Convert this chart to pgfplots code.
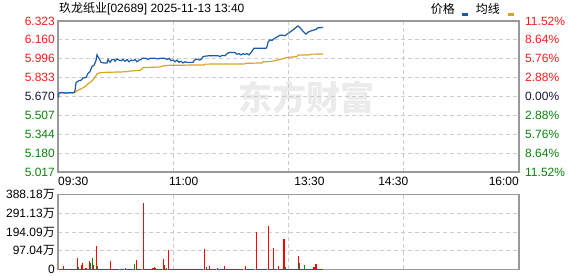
\documentclass[border=0pt]{standalone}
\usepackage{pgfplots}
\pgfplotsset{compat=1.18}
\usepackage{fontspec}
\setmainfont{Liberation Sans}
\newfontfamily\cjk{Noto Sans CJK SC}
\newcommand{\lbl}{\fontsize{12bp}{14bp}\selectfont}
\definecolor{pblue}{HTML}{1A5AA6}
\definecolor{avgorg}{HTML}{DDA224}
\definecolor{lred}{HTML}{FF1A1A}
\definecolor{lgreen}{HTML}{0A840A}
\definecolor{lzero}{HTML}{14143C}
\definecolor{framec}{HTML}{999999}
\definecolor{gridc}{HTML}{CCCCCC}
\definecolor{vred}{HTML}{FF0000}
\definecolor{vgreen}{HTML}{008A00}
\pgfplotsset{
  panel/.style={
    scale only axis, width=461bp, anchor=south west,
    xmin=58, xmax=519,
    xtick={173.25,288.5,403.75}, xticklabels={},
    xmajorgrids, ymajorgrids,
    grid style={gridc, dash pattern=on 4bp off 3bp, line width=0.9bp},
    axis line style={framec, line width=1.3bp},
    major tick length=0pt,
    yticklabel style={font=\lbl, inner sep=0pt, xshift=-3bp},
    clip mode=individual,
  }
}
\begin{document}
\begin{tikzpicture}
\useasboundingbox (0,0) rectangle (578bp,276bp);
% watermark
\node[text=black!8, font=\cjk\bfseries\fontsize{34bp}{34bp}\selectfont] at (306bp,179bp) {东方财富};
% title and legend
\node[anchor=west, inner sep=0pt, font=\lbl] at (59bp,267bp) {{\cjk 玖龙纸业}[02689] 2025-11-13 13:40};
\node[anchor=east, inner sep=0pt, font=\lbl] at (455bp,267bp) {\cjk 价格};
\fill[pblue] (462bp,260bp) rectangle (468bp,262.5bp);
\node[anchor=east, inner sep=0pt, font=\lbl] at (500bp,267bp) {\cjk 均线};
\fill[avgorg] (508bp,260bp) rectangle (514bp,262.5bp);

\begin{axis}[panel, at={(58bp,104bp)}, height=151bp,
  ymin=5.017, ymax=6.323,
  ytick={5.017,5.180,5.344,5.507,5.670,5.833,5.996,6.160,6.323},
  yticklabels={\textcolor{lgreen}{5.017},\textcolor{lgreen}{5.180},\textcolor{lgreen}{5.344},\textcolor{lgreen}{5.507},\textcolor{lzero}{5.670},\textcolor{lred}{5.833},\textcolor{lred}{5.996},\textcolor{lred}{6.160},\textcolor{lred}{6.323}},
]
\addplot[avgorg, line width=1.2bp] coordinates {
(59,5.700) (66,5.700) (74,5.703) (76,5.712) (78,5.725) (80,5.732) (83,5.745) (85,5.755)
(88,5.780) (90,5.790) (93,5.815) (95,5.836) (97,5.865) (99,5.873) (102,5.878) (110,5.880)
(120,5.882) (127,5.885) (133,5.893) (140,5.895) (142,5.910) (143,5.920) (150,5.922) (160,5.925)
(163,5.935) (170,5.940) (180,5.940) (190,5.942) (204,5.942) (205,5.950) (245,5.952) (246,5.957)
(262,5.960) (263,5.970) (270,5.972) (275,5.980) (282,5.995) (286,6.005) (290,6.010) (297,6.015)
(298,6.028) (310,6.030) (311,6.036) (323,6.038)
};
\addplot[pblue, line width=1.2bp] coordinates {
(58.5,5.660) (59,5.700) (62,5.705) (66,5.700) (70,5.703) (74,5.703) (75,5.720) (76,5.790)
(79,5.807) (81,5.810) (83,5.830) (86,5.835) (88,5.870) (90,5.885) (92,5.930) (94,5.940)
(96,5.980) (97,6.030) (99,6.000) (101,5.965) (104,5.960) (107,5.960) (108,5.990) (110,5.965)
(112,5.990) (114,5.990) (115,5.975) (117,5.995) (119,5.985) (121,5.980) (123,5.990) (125,5.975)
(127,5.990) (129,5.970) (131,5.985) (133,5.980) (135,5.990) (137,5.970) (139,5.985) (141,5.990)
(142,6.000) (146,6.000) (148,5.990) (150,6.000) (155,6.000) (158,5.995) (160,6.000) (165,6.000)
(167,5.990) (169,6.000) (171,5.980) (173,5.985) (175,5.970) (177,5.985) (179,5.965) (181,5.975)
(183,5.960) (185,5.970) (187,5.965) (190,5.965) (193,5.965) (194,5.980) (196,5.994) (198,5.990)
(200,5.985) (202,6.000) (203,6.015) (206,6.020) (210,6.023) (214,6.023) (218,6.023) (220,6.015)
(222,6.025) (225,6.023) (227,6.040) (229,6.050) (233,6.050) (235,6.050) (237,6.035) (239,6.040)
(241,6.030) (243,6.040) (245,6.035) (247,6.040) (249,6.030) (251,6.050) (254,6.087) (258,6.087)
(262,6.087) (266,6.087) (267,6.100) (268,6.140) (270,6.160) (272,6.155) (274,6.170) (276,6.180)
(278,6.190) (280,6.200) (283,6.200) (285,6.195) (287,6.210) (289,6.220) (291,6.235) (293,6.245)
(295,6.260) (297,6.275) (298,6.280) (300,6.265) (302,6.245) (304,6.225) (306,6.210) (308,6.225)
(310,6.235) (312,6.240) (314,6.245) (316,6.250) (318,6.265) (320,6.265) (323,6.268)
};
% right percentage labels
\begin{scope}[every node/.style={anchor=west, inner sep=0pt, font=\lbl, xshift=6bp}]
\node[text=lred] at (axis cs:519,6.323) {11.52\%};
\node[text=lred] at (axis cs:519,6.160) {8.64\%};
\node[text=lred] at (axis cs:519,5.996) {5.76\%};
\node[text=lred] at (axis cs:519,5.833) {2.88\%};
\node[text=lzero] at (axis cs:519,5.670) {0.00\%};
\node[text=lgreen] at (axis cs:519,5.507) {2.88\%};
\node[text=lgreen] at (axis cs:519,5.344) {5.76\%};
\node[text=lgreen] at (axis cs:519,5.180) {8.64\%};
\node[text=lgreen] at (axis cs:519,5.017) {11.52\%};
\end{scope}
% time labels
\begin{scope}[every node/.style={inner sep=0pt, font=\lbl, yshift=-5bp}]
\node[anchor=north west] at (axis cs:58,5.017) {09:30};
\node[anchor=north] at (axis cs:183.7,5.017) {11:00};
\node[anchor=north] at (axis cs:309.5,5.017) {13:30};
\node[anchor=north] at (axis cs:393.3,5.017) {14:30};
\node[anchor=north east] at (axis cs:519,5.017) {16:00};
\end{scope}
\end{axis}

\begin{axis}[panel, at={(58bp,6.5bp)}, height=75bp,
  ymin=0, ymax=388.18,
  ytick={0,97.04,194.09,291.13,388.18},
  yticklabels={0,{97.04{\cjk 万}},{194.09{\cjk 万}},{291.13{\cjk 万}},{388.18{\cjk 万}}},
]
\addplot[ycomb, mark=none, vred, line width=1.1bp] coordinates {
(60,5) (62,5) (64,5) (66,5) (68,5) (70,5) (72,5) (74,5) (76,5) (80,5) (84,5) (88,5) (91,5)
(95,5) (99,5) (101,5) (103,5) (105,5) (107,5) (109,5) (112,5) (114,5) (116,5) (121,5) (123,5)
(127,5) (129,5) (131,5) (138,5) (140,5) (145,5) (147,5) (149,5) (151,5) (157,5) (159,5) (161,5)
(165,5) (170,5) (172,5) (174,5) (176,5) (178,5) (180,5) (182,5) (184,5) (186,5) (188,5) (190,5)
(192,5) (194,5) (196,5) (198,5) (200,5) (202,5) (208,5) (211,5) (213,5) (215,5) (219,5) (221,5)
(223,5) (226,5) (228,5) (230,5) (232,5) (234,5) (236,5) (238,5) (240,5) (242,5) (247,5) (249,5)
(251,5) (253,5) (258,5) (260,5) (262,5) (264,5) (266,5) (270,5) (272,5) (274,5) (276,5) (280,5)
(282,5) (287,5) (289,5) (291,5) (293,5) (295,5) (297,5) (301,5) (303,5) (306,5) (308,5) (310,5)
(312,5) (318,5) (320,5) (322,5)
(63.3,18) (77.3,60) (81.3,24) (82.7,34) (85.3,8) (86.7,8) (89.3,45) (93.7,24) (96.3,121)
(110.3,45) (125.3,8) (136.3,50) (143.3,346) (153,10) (154.3,12) (163.3,53) (164.3,22)
(168.3,99) (204.3,104) (209.3,17) (217.3,8) (224.3,17) (245.3,17) (256.3,196) (268.3,226)
(273.3,109) (278.7,17) (284,160) (298.3,68) (314,12) (316,27)
};
\addplot[ycomb, mark=none, vgreen, line width=1.1bp] coordinates {
(67,5) (118,4) (133,5) (78.5,12) (90.3,35) (92.2,60) (97.5,18) (134.2,30) (155.5,8)
(166.7,8) (206.3,12) (285.3,12) (299.3,32) (304.3,22)
};
\end{axis}
\end{tikzpicture}
\end{document}
